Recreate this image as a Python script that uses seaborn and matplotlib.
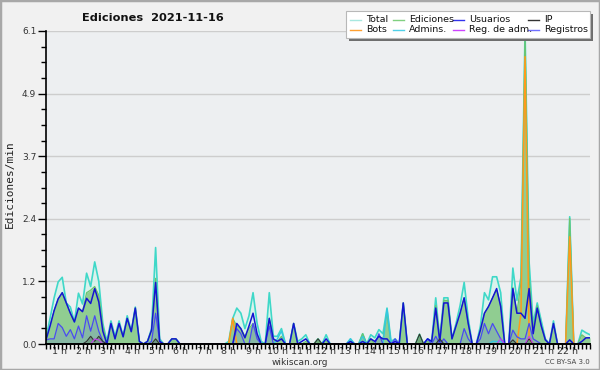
import numpy as np
import pandas as pd
import matplotlib
matplotlib.use("Agg")
import matplotlib.pyplot as plt
import seaborn as sns
from matplotlib.lines import Line2D
from matplotlib.patches import Rectangle

title = "Ediciones  2021-11-16"
ylabel = "Ediciones/min"
hour_labels = [f"{h} h" for h in range(1, 23)]
ytick_values = [0.0, 1.22, 2.44, 3.66, 4.88, 6.1]
ytick_labels = ["0.0", "1.2", "2.4", "3.7", "4.9", "6.1"]

# one value every 10 minutes (index 0..134)
total = [0.12, 0.5, 0.9, 1.21, 1.3, 0.8, 0.72, 0.43, 0.99, 0.78,
         1.38, 1.12, 1.6, 1.22, 0.4, 0.05, 0.45, 0.15, 0.45, 0.15,
         0.55, 0.25, 0.72, 0.05, 0.0, 0.05, 0.3, 1.88, 0.1, 0.0,
         0.0, 0.1, 0.1, 0.0, 0.0, 0.0, 0.0, 0.0, 0.0, 0.0,
         0.0, 0.0, 0.0, 0.0, 0.0, 0.05, 0.5, 0.7, 0.6, 0.3,
         0.55, 1.0, 0.4, 0.05, 0.0, 1.0, 0.15, 0.15, 0.3, 0.0,
         0.0, 0.4, 0.05, 0.1, 0.18, 0.0, 0.0, 0.1, 0.0, 0.18,
         0.0, 0.0, 0.0, 0.0, 0.0, 0.1, 0.0, 0.0, 0.2, 0.0,
         0.18, 0.12, 0.28, 0.2, 0.7, 0.05, 0.1, 0.0, 0.8, 0.0,
         0.0, 0.0, 0.19, 0.0, 0.1, 0.05, 0.9, 0.1, 0.9, 0.9,
         0.1, 0.4, 0.75, 1.2, 0.5, 0.0, 0.0, 0.35, 1.0, 0.86,
         1.31, 1.31, 1.0, 0.0, 0.0, 1.48, 0.85, 1.3, 6.1, 1.6,
         0.4, 0.8, 0.45, 0.1, 0.0, 0.45, 0.0, 0.0, 0.0, 2.48,
         0.0, 0.0, 0.27, 0.22, 0.18]

ediciones = [0.08, 0.35, 0.65, 0.88, 1.0, 0.8, 0.6, 0.43, 0.7, 0.63,
             1.0, 1.05, 1.12, 0.95, 0.35, 0.0, 0.4, 0.1, 0.4, 0.14,
             0.5, 0.24, 0.7, 0.05, 0.0, 0.05, 0.27, 1.28, 0.05, 0.0,
             0.0, 0.1, 0.1, 0.0, 0.0, 0.0, 0.0, 0.0, 0.0, 0.0,
             0.0, 0.0, 0.0, 0.0, 0.0, 0.0, 0.5, 0.35, 0.3, 0.15,
             0.3, 0.4, 0.15, 0.0, 0.0, 0.5, 0.1, 0.05, 0.15, 0.0,
             0.0, 0.4, 0.0, 0.0, 0.05, 0.0, 0.0, 0.1, 0.0, 0.05,
             0.0, 0.0, 0.0, 0.0, 0.0, 0.05, 0.0, 0.0, 0.2, 0.0,
             0.1, 0.0, 0.15, 0.1, 0.6, 0.0, 0.0, 0.0, 0.8, 0.0,
             0.0, 0.0, 0.19, 0.0, 0.05, 0.0, 0.75, 0.1, 0.85, 0.85,
             0.1, 0.35, 0.6, 0.9, 0.4, 0.0, 0.0, 0.27, 0.6, 0.73,
             0.9, 1.05, 0.75, 0.0, 0.0, 1.1, 0.6, 1.2, 6.0, 1.3,
             0.3, 0.75, 0.35, 0.08, 0.0, 0.4, 0.0, 0.0, 0.0, 2.45,
             0.0, 0.0, 0.18, 0.12, 0.12]

usuarios = [0.08, 0.35, 0.65, 0.88, 1.0, 0.8, 0.6, 0.43, 0.7, 0.63,
            0.89, 0.79, 1.08, 0.82, 0.25, 0.0, 0.4, 0.1, 0.4, 0.14,
            0.5, 0.24, 0.7, 0.05, 0.0, 0.05, 0.27, 1.2, 0.05, 0.0,
            0.0, 0.1, 0.1, 0.0, 0.0, 0.0, 0.0, 0.0, 0.0, 0.0,
            0.0, 0.0, 0.0, 0.0, 0.0, 0.0, 0.0, 0.4, 0.3, 0.12,
            0.35, 0.6, 0.2, 0.0, 0.0, 0.5, 0.1, 0.05, 0.1, 0.0,
            0.0, 0.4, 0.0, 0.05, 0.1, 0.0, 0.0, 0.0, 0.0, 0.1,
            0.0, 0.0, 0.0, 0.0, 0.0, 0.05, 0.0, 0.0, 0.05, 0.0,
            0.1, 0.05, 0.15, 0.1, 0.1, 0.0, 0.05, 0.0, 0.8, 0.0,
            0.0, 0.0, 0.0, 0.0, 0.1, 0.05, 0.7, 0.05, 0.8, 0.8,
            0.1, 0.35, 0.6, 0.9, 0.4, 0.0, 0.0, 0.27, 0.6, 0.73,
            0.9, 1.08, 0.73, 0.0, 0.0, 1.08, 0.6, 0.6, 0.5, 1.08,
            0.2, 0.7, 0.35, 0.08, 0.0, 0.4, 0.0, 0.0, 0.0, 0.08,
            0.0, 0.0, 0.05, 0.12, 0.12]

ip = [0.0] * 10 + [0.05, 0.15, 0.05, 0.15, 0.05] + [0.0] * 12 + [0.1] + [0.0] * 39 + \
     [0.1] + [0.0] * 24 + [0.19] + [0.0] * 4 + [0.1] + [0.0] * 17 + [0.08, 0.0, 0.0, 0.0, 0.1] + [0.0] * 15

bots = [0.0] * 46 + [0.5] + [0.0] * 70 + [0.6, 5.6, 0.1] + [0.0] * 9 + [2.09] + [0.0] * 5

admins = [0.0] * 57 + [0.1, 0.25] + [0.0] * 16 + [0.1, 0.0, 0.0, 0.15] + [0.0] * 5 + \
         [0.68] + [0.0] * 25 + [0.05, 0.05, 0.05] + [0.0] * 22

reg_adm = [0.0] * 12 + [0.1, 0.08] + [0.0] * 98 + [0.1] + [0.0] * 6 + [0.15] + [0.0] * 15

registros = [0.08, 0.1, 0.1, 0.4, 0.32, 0.15, 0.28, 0.1, 0.35, 0.12,
             0.55, 0.25, 0.55, 0.25, 0.05, 0.0, 0.0, 0.0, 0.0, 0.0,
             0.0, 0.0, 0.0, 0.0, 0.0, 0.0, 0.05, 0.6, 0.05, 0.0,
             0.0, 0.0, 0.0, 0.0, 0.0, 0.0, 0.0, 0.0, 0.0, 0.0,
             0.0, 0.0, 0.0, 0.0, 0.0, 0.0, 0.0, 0.3, 0.2, 0.0,
             0.0, 0.4, 0.1, 0.0, 0.0, 0.35, 0.0, 0.0, 0.0, 0.0,
             0.0, 0.0, 0.0, 0.0, 0.0, 0.0, 0.0, 0.0, 0.0, 0.0,
             0.0, 0.0, 0.0, 0.0, 0.0, 0.0, 0.0, 0.0, 0.0, 0.0,
             0.0, 0.0, 0.2, 0.0, 0.0, 0.0, 0.1, 0.0, 0.0, 0.0,
             0.0, 0.0, 0.0, 0.0, 0.1, 0.0, 0.15, 0.0, 0.1, 0.0,
             0.0, 0.0, 0.0, 0.3, 0.1, 0.0, 0.0, 0.1, 0.4, 0.2,
             0.4, 0.25, 0.1, 0.0, 0.0, 0.27, 0.14, 0.1, 0.1, 0.4,
             0.1, 0.05, 0.0, 0.0, 0.0, 0.0, 0.0, 0.0, 0.0, 0.0,
             0.0, 0.0, 0.0, 0.0, 0.0]

n = len(total)
df = pd.DataFrame({
    "i": np.arange(n),
    "Total": total, "Ediciones": ediciones, "Usuarios": usuarios, "IP": ip,
    "Bots": bots, "Admins.": admins, "Reg. de adm.": reg_adm, "Registros": registros,
})

colors = {
    "Total": "#3fd8c8", "Ediciones": "#6cc46c", "Usuarios": "#1414d2", "IP": "#333333",
    "Bots": "#ff9a1a", "Admins.": "#34c8e0", "Reg. de adm.": "#c640f0", "Registros": "#4a4af2",
}
legend_colors = {
    "Total": "#a8e8e0", "Ediciones": "#80d080", "Usuarios": "#3333ee", "IP": "#333333",
    "Bots": "#ffa030", "Admins.": "#50d0e8", "Reg. de adm.": "#cc44ff", "Registros": "#7070ff",
}

W, H = 600, 370
fig = plt.figure(figsize=(W / 100, H / 100), dpi=100, facecolor="#f1f1f1")
ax = fig.add_axes([46 / W, 26 / H, 544 / W, 313 / H])
ax.set_facecolor("#edeff1")

x = df["i"]
ax.fill_between(x, df["Total"], color="#d8f3ec", alpha=0.9, lw=0, zorder=1)
ax.fill_between(x, df["Ediciones"], color="#8ccb8c", alpha=0.95, lw=0, zorder=2)
ax.fill_between(x, df["Registros"], color="#5a5aff", alpha=0.18, lw=0, zorder=3)
ax.fill_between(x, df["IP"], color="#446644", alpha=0.35, lw=0, zorder=3)

draw = [("Total", 1.2), ("Ediciones", 0.9), ("Admins.", 1.0), ("Bots", 1.1),
        ("Registros", 0.9), ("Usuarios", 1.1), ("IP", 0.8), ("Reg. de adm.", 0.8)]
for k, (name, lw) in enumerate(draw):
    sns.lineplot(data=df, x="i", y=name, ax=ax, color=colors[name], lw=lw,
                 zorder=4 + k, legend=False)

ax.set_xlim(0, n - 1)
ax.set_ylim(0, ytick_values[-1])
ax.set_xlabel("")
ax.set_ylabel("")

# y axis
ax.set_yticks(ytick_values)
ax.set_yticklabels(ytick_labels)
ax.set_yticks(np.linspace(0, ytick_values[-1], 21), minor=True)
ax.tick_params(axis="y", which="major", length=6, width=1, color="black",
               labelsize=6.5, labelcolor="#333333", pad=1)
ax.tick_params(axis="y", which="minor", length=3.5, width=1, color="black")
ax.yaxis.grid(True, which="major", color="#cdcdcd", lw=1)
ax.xaxis.grid(False)
ax.set_axisbelow(True)

# x axis: small tick every 10 minutes, hour labels below
ax.set_xticks(np.arange(0, n), minor=True)
label_pos = [(24.2 * h - 10.7) / 4.06 for h in range(1, 23)]
ax.set_xticks(label_pos)
ax.set_xticklabels(hour_labels)
ax.tick_params(axis="x", which="minor", length=3.5, width=1, color="black", direction="out")
ax.tick_params(axis="x", which="major", length=0, labelsize=6.8, labelcolor="#333333", pad=2)

for s in ["top", "right"]:
    ax.spines[s].set_visible(False)
for s in ["left", "bottom"]:
    ax.spines[s].set_color("black")
    ax.spines[s].set_zorder(20)
ax.spines["left"].set_linewidth(1.2)
ax.spines["bottom"].set_linewidth(1.4)


def fx(px):
    return px / W


def fy(py):
    return 1 - py / H


# texts
fig.text(fx(153), fy(18), title, ha="center", va="center",
         fontsize=8.2, fontweight="bold", color="#111111")
fig.text(fx(10), fy(184), ylabel, rotation=90, ha="center", va="center",
         fontsize=8, family="DejaVu Sans Mono", color="#222222")
fig.text(fx(300), fy(362.5), "wikiscan.org", ha="center", va="center",
         fontsize=6.5, color="#333333")
fig.text(fx(590), fy(362.5), "CC BY-SA 3.0", ha="right", va="center",
         fontsize=5, color="#444444")

# legend box drawn by hand (shadow + frame)
bx0, by0, bx1, by1 = 346, 11, 590, 38
fig.patches.append(Rectangle((fx(bx0 + 3), fy(by1 + 3)), (bx1 - bx0) / W, (by1 - by0) / H,
                             transform=fig.transFigure, facecolor="#6e6e6e", edgecolor="none",
                             zorder=28))
fig.patches.append(Rectangle((fx(bx0), fy(by1)), (bx1 - bx0) / W, (by1 - by0) / H,
                             transform=fig.transFigure, facecolor="white", edgecolor="#b8b8b8",
                             lw=0.8, zorder=29))
order = [["Total", "Bots"], ["Ediciones", "Admins."], ["Usuarios", "Reg. de adm."], ["IP", "Registros"]]
col_x = [350, 393, 453, 528]
row_y = [19.5, 29.5]
for cx, names in zip(col_x, order):
    for ry, name in zip(row_y, names):
        fig.lines.append(Line2D([fx(cx), fx(cx + 11)], [fy(ry), fy(ry)], transform=fig.transFigure,
                                color=legend_colors[name], lw=1.0, zorder=30))
        fig.text(fx(cx + 16), fy(ry), name, ha="left", va="center", fontsize=6.8,
                 color="#111111", zorder=31)

fig.patches.append(Rectangle((0, 0), 1, 1, transform=fig.transFigure, fill=False,
                             edgecolor="#a8a8a8", lw=2.5))

fig.savefig("out.png", dpi=100, facecolor=fig.get_facecolor())
